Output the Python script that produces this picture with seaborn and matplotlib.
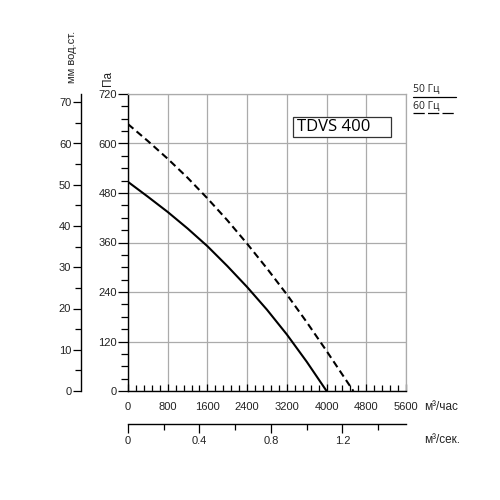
import matplotlib
matplotlib.use("Agg")
import matplotlib.pyplot as plt
from matplotlib.ticker import MultipleLocator
from matplotlib.lines import Line2D
from matplotlib.patches import Rectangle
import seaborn as sns
import pandas as pd

# ---- data ----
q_50 = [0, 400, 800, 1200, 1600, 2000, 2400, 2800, 3200, 3600, 4000]
p_50 = [507, 471, 434, 394, 351, 303, 252, 197, 137, 71, 0]
q_60 = [0, 400, 800, 1200, 1600, 2000, 2400, 2800, 3200, 3600, 4000, 4400, 4540]
p_60 = [647, 606, 563, 517, 467, 414, 357, 297, 234, 167, 97, 25, 0]
series_labels = ["50 Гц", "60 Гц"]
model_label = "TDVS 400"

df = pd.concat([
    pd.DataFrame({"Q": q_50, "P": p_50, "f": series_labels[0]}),
    pd.DataFrame({"Q": q_60, "P": p_60, "f": series_labels[1]}),
])

sns.set_theme(style="white")
plt.rcParams["font.family"] = ["Liberation Sans", "DejaVu Sans"]
TXT = "#222222"

W, H = 500, 500
fig = plt.figure(figsize=(5, 5), dpi=100)
x0, x1, y0, y1 = 128, 406, 94, 391
ax = fig.add_axes([x0 / W, 1 - y1 / H, (x1 - x0) / W, (y1 - y0) / H])

sns.lineplot(data=df, x="Q", y="P", style="f", hue="f",
             palette=["black", "black"],
             dashes={series_labels[0]: "", series_labels[1]: (3.4, 2.0)},
             linewidth=1.5, legend=False, ax=ax)

ax.set_xlim(0, 5600)
ax.set_ylim(0, 720)
ax.set_xlabel("")
ax.set_ylabel("")
ax.xaxis.set_major_locator(MultipleLocator(800))
ax.xaxis.set_minor_locator(MultipleLocator(160))
ax.yaxis.set_major_locator(MultipleLocator(120))
ax.yaxis.set_minor_locator(MultipleLocator(30))
ax.grid(True, which="major", color="#ababab", linewidth=0.9)
ax.set_axisbelow(True)
for s in ["top", "right"]:
    ax.spines[s].set_color("#ababab")
    ax.spines[s].set_linewidth(0.9)
for s in ["left", "bottom"]:
    ax.spines[s].set_color("black")
    ax.spines[s].set_linewidth(1.0)

ax.tick_params(axis="y", which="major", direction="out", length=7, width=0.9,
               color="black", pad=1, labelsize=8, labelcolor=TXT, left=True)
ax.tick_params(axis="y", which="minor", direction="out", length=5, width=0.9,
               color="black", left=True)
ax.tick_params(axis="x", which="major", direction="in", length=5, width=0.9,
               color="black", pad=8, labelsize=8, labelcolor=TXT, bottom=True)
ax.tick_params(axis="x", which="minor", direction="in", length=4, width=0.9,
               color="black", bottom=True)

# secondary left axis: mm water column
sec_y = ax.secondary_yaxis(-(x0 - 81) / (x1 - x0),
                           functions=(lambda p: p / 10, lambda m: m * 10))
sec_y.yaxis.set_major_locator(MultipleLocator(10))
sec_y.yaxis.set_minor_locator(MultipleLocator(5))
sec_y.spines["left"].set_color("black")
sec_y.spines["left"].set_linewidth(1.0)
sec_y.tick_params(axis="y", which="major", direction="out", length=6, width=0.9,
                  color="black", pad=1, labelsize=8, labelcolor=TXT)
sec_y.tick_params(axis="y", which="minor", direction="out", length=4, width=0.9,
                  color="black")

# secondary bottom axis: m3/s
sec_x = ax.secondary_xaxis(-(424 - y1) / (y1 - y0),
                           functions=(lambda q: q / 3600, lambda s: s * 3600))
sec_x.xaxis.set_major_locator(MultipleLocator(0.4))
sec_x.xaxis.set_minor_locator(MultipleLocator(0.2))
sec_x.spines["bottom"].set_color("black")
sec_x.spines["bottom"].set_linewidth(1.0)
sec_x.tick_params(axis="x", which="major", direction="out", length=6.5, width=0.9,
                  color="black", pad=2.5, labelsize=8, labelcolor=TXT)
sec_x.tick_params(axis="x", which="minor", direction="out", length=4.5, width=0.9,
                  color="black")
sec_x.set_xticks([0, 0.4, 0.8, 1.2], labels=["0", "0.4", "0.8", "1.2"])

# unit labels
fig.text(72 / W, 1 - 57 / H, "мм вод.ст.", rotation=90, ha="center", va="center",
         fontsize=8, color=TXT)
fig.text(108 / W, 1 - 79 / H, "Па", rotation=90, ha="center", va="center",
         fontsize=8.5, color=TXT)
fig.text(424 / W, 1 - 407 / H, "м³/час", ha="left", va="center", fontsize=8.5, color=TXT)
fig.text(424 / W, 1 - 440 / H, "м³/сек.", ha="left", va="center", fontsize=8.5, color=TXT)

# model label box
ax.add_patch(Rectangle((0.594, 0.855), 0.352, 0.068, transform=ax.transAxes,
                       facecolor="white", edgecolor="#333333", linewidth=0.9, zorder=5))
ax.text(0.608, 0.889, model_label, transform=ax.transAxes, ha="left", va="center",
        fontsize=12, family=["Open Sans", "DejaVu Sans"], color="black", zorder=6)

# legend (top right, outside the plot)
fig.text(413 / W, 1 - 89.5 / H, series_labels[0], ha="left", va="center",
         fontsize=7.5, family=["Open Sans", "DejaVu Sans"], color=TXT)
fig.text(413 / W, 1 - 106.5 / H, series_labels[1], ha="left", va="center",
         fontsize=7.5, family=["Open Sans", "DejaVu Sans"], color=TXT)
fig.add_artist(Line2D([412.7 / W, 456 / W], [1 - 96.7 / H, 1 - 96.7 / H],
                      color="black", linewidth=0.9))
fig.add_artist(Line2D([412.7 / W, 456 / W], [1 - 113.3 / H, 1 - 113.3 / H],
                      color="black", linewidth=0.9, dashes=(9, 2.6)))

fig.savefig("out.png", dpi=100, facecolor="white")
